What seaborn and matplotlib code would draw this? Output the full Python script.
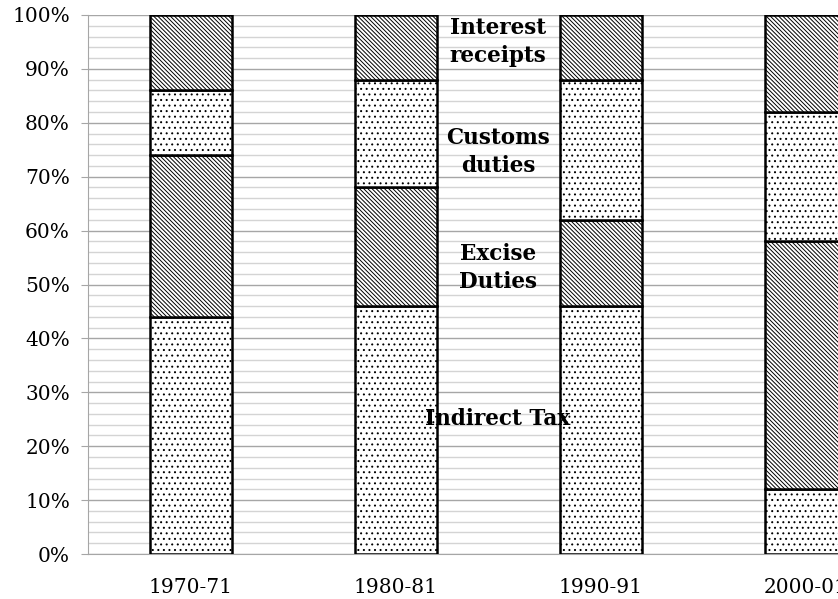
import numpy as np
import pandas as pd
import matplotlib.pyplot as plt
import seaborn as sns
from matplotlib.ticker import MultipleLocator, FixedLocator, PercentFormatter

# Share of revenue (%) by year
years = ['1970-71', '1980-81', '1990-91', '2000-01']
indirect_tax = [44, 46, 46, 12]
excise_duties = [30, 22, 16, 46]
customs_duties = [12, 20, 26, 24]
interest_receipts = [14, 12, 12, 18]

series_names = ['Indirect Tax', 'Excise\nDuties', 'Customs\nduties', 'Interest\nreceipts']
series_values = [indirect_tax, excise_duties, customs_duties, interest_receipts]
hatches = ['...', '\\' * 8, '...', '\\' * 8]
label_y = [25, 53, 74.5, 95]

sns.set_style('white', {'text.color': 'black', 'xtick.color': '#a6a6a6',
                        'ytick.color': '#a6a6a6'})
plt.rcParams['font.family'] = ['DejaVu Serif']
plt.rcParams['hatch.linewidth'] = 0.7

fig = plt.figure(figsize=(8.38, 5.99), dpi=100)
ax = fig.add_axes([88 / 838, 1 - 554 / 599, 820 / 838, 539 / 599])

bottom = np.zeros(len(years))
for name, vals, h in zip(series_names, series_values, hatches):
    df = pd.DataFrame({'year': years, 'share': vals})
    sns.barplot(data=df, x='year', y='share', bottom=bottom, width=0.4,
                color='white', edgecolor='black', linewidth=1.8, hatch=h,
                ax=ax, zorder=3)
    bottom = bottom + np.array(vals)

# series labels placed in the gap between second and third bars
for name, y in zip(series_names, label_y):
    ax.text(1.5, y, name, ha='center', va='center', fontsize=15.5,
            fontweight='bold', color='black', zorder=5, linespacing=1.35)

ax.set_xlim(-0.5, 3.5)
ax.set_ylim(0, 100)
ax.yaxis.set_major_locator(MultipleLocator(10))
ax.yaxis.set_minor_locator(MultipleLocator(2))
ax.yaxis.set_major_formatter(PercentFormatter(decimals=0))
ax.grid(True, which='major', axis='y', color='#a6a6a6', linewidth=1.0, zorder=0)
ax.grid(True, which='minor', axis='y', color='#d4d4d4', linewidth=1.0, zorder=0)
ax.set_axisbelow(True)

ax.xaxis.set_minor_locator(FixedLocator([0.5, 1.5, 2.5]))
ax.tick_params(axis='x', which='major', length=0, pad=17, labelsize=14.5, labelcolor='black')
ax.tick_params(axis='x', which='minor', length=5, direction='out')
ax.tick_params(axis='y', which='major', length=5, pad=8, labelsize=14.5,
               labelcolor='black', left=True)
ax.tick_params(axis='y', which='minor', length=0)

for side in ['top', 'right']:
    ax.spines[side].set_visible(False)
for side in ['left', 'bottom']:
    ax.spines[side].set_color('#a6a6a6')

ax.set_xlabel('')
ax.set_ylabel('')

fig.savefig('out.png', dpi=100)
